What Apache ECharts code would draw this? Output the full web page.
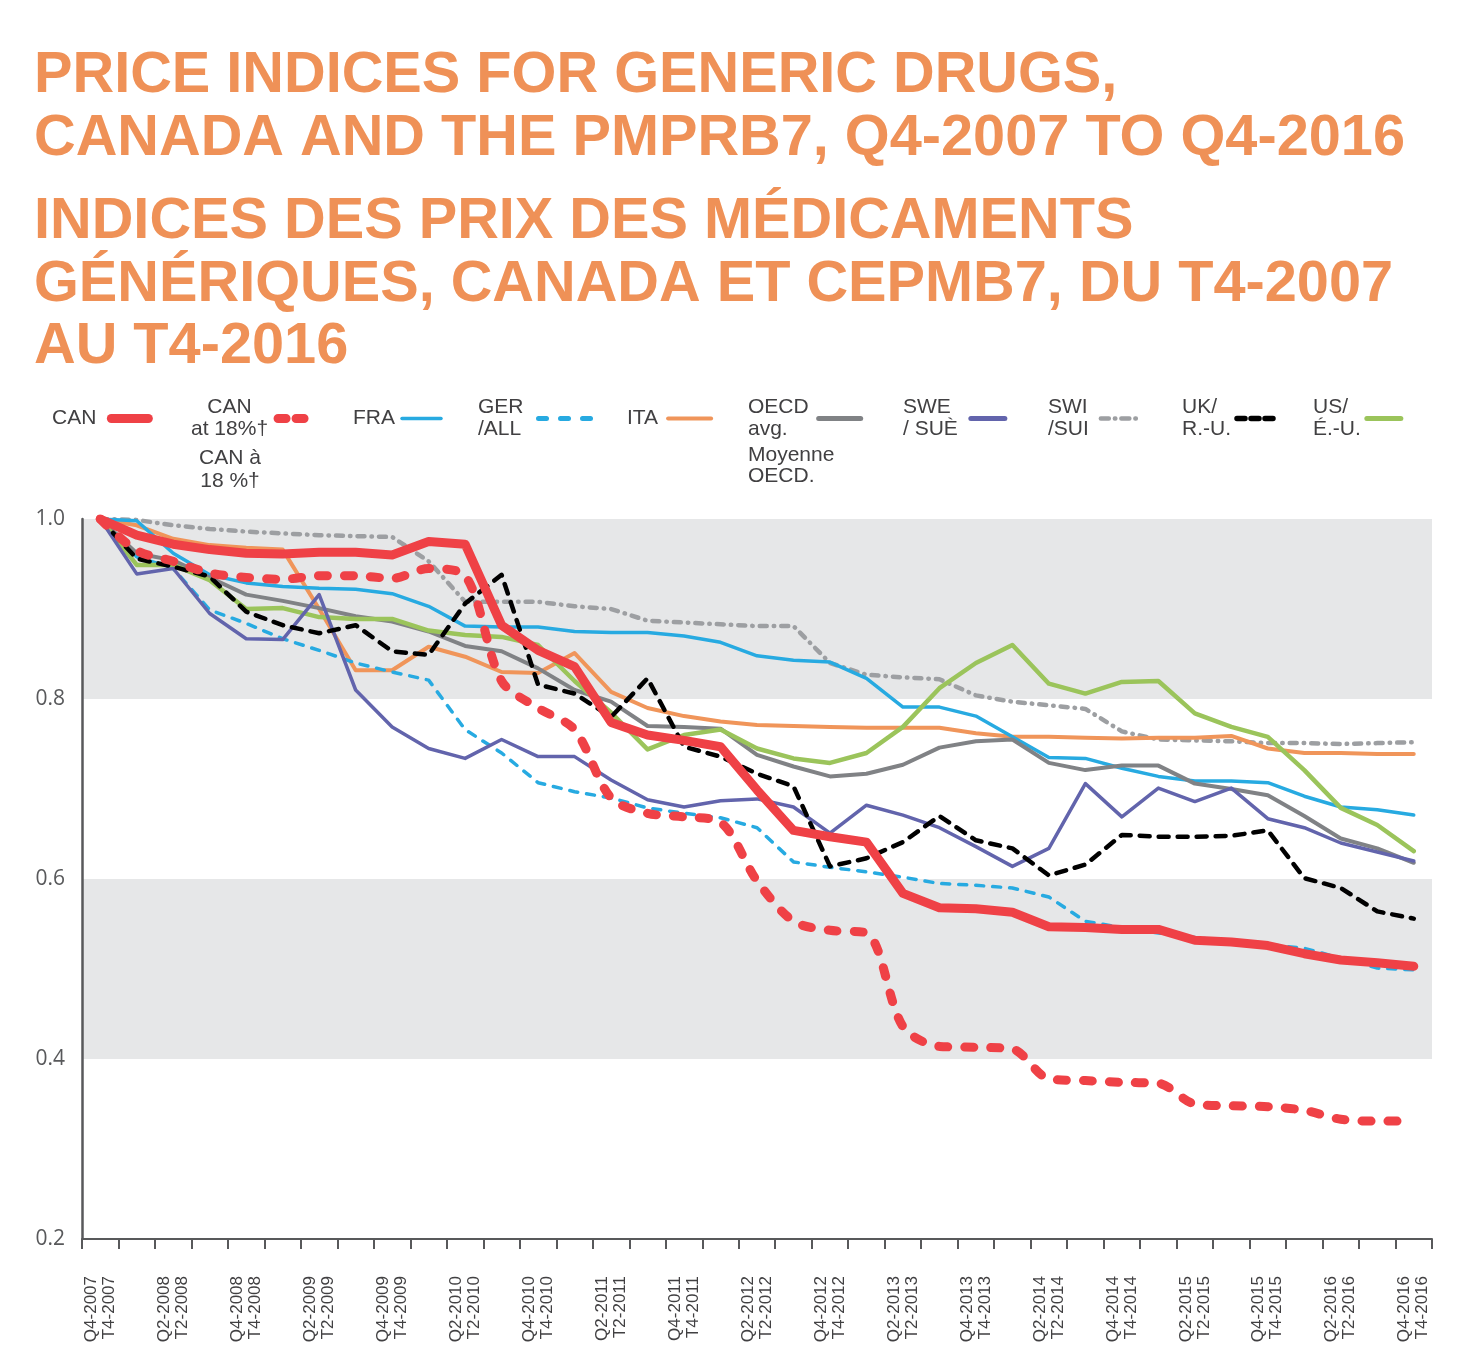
<!DOCTYPE html>
<html><head><meta charset="utf-8">
<script src="https://cdn.jsdelivr.net/npm/echarts@6/dist/echarts.min.js"></script>
<style>html,body{margin:0;padding:0;background:#fff}#c{width:1477px;height:1364px}</style>
</head><body><div id="c"></div>
<script>
const quarters = ['Q4-2007','Q1-2008','Q2-2008','Q3-2008','Q4-2008','Q1-2009','Q2-2009','Q3-2009','Q4-2009',
  'Q1-2010','Q2-2010','Q3-2010','Q4-2010','Q1-2011','Q2-2011','Q3-2011','Q4-2011','Q1-2012','Q2-2012','Q3-2012','Q4-2012',
  'Q1-2013','Q2-2013','Q3-2013','Q4-2013','Q1-2014','Q2-2014','Q3-2014','Q4-2014','Q1-2015','Q2-2015','Q3-2015','Q4-2015',
  'Q1-2016','Q2-2016','Q3-2016','Q4-2016'];
const yTicks = [0.2, 0.4, 0.6, 0.8, 1.0];

const CAN   = [1.000,0.982,0.972,0.966,0.962,0.961,0.963,0.963,0.960,0.975,0.972,0.882,0.854,0.836,0.774,0.760,0.754,0.747,0.699,0.654,0.647,0.641,0.584,0.568,0.567,0.563,0.547,0.546,0.544,0.544,0.532,0.530,0.526,0.517,0.510,0.507,0.503];
const CAN18 = [1.000,0.965,0.953,0.940,0.935,0.933,0.937,0.937,0.934,0.945,0.937,0.820,0.790,0.766,0.690,0.673,0.669,0.663,0.598,0.553,0.543,0.540,0.436,0.414,0.413,0.411,0.378,0.376,0.374,0.373,0.350,0.348,0.347,0.343,0.333,0.331,0.331];
const FRA   = [1.000,0.998,0.962,0.938,0.929,0.925,0.923,0.922,0.917,0.903,0.881,0.880,0.880,0.875,0.874,0.874,0.870,0.863,0.848,0.843,0.841,0.823,0.791,0.791,0.781,0.758,0.735,0.734,0.723,0.714,0.709,0.709,0.707,0.692,0.680,0.677,0.671];
const GER   = [1.000,0.958,0.945,0.899,0.884,0.867,0.854,0.840,0.830,0.821,0.766,0.740,0.707,0.697,0.690,0.679,0.673,0.668,0.657,0.619,0.613,0.608,0.602,0.595,0.593,0.590,0.580,0.553,0.546,0.540,0.535,0.531,0.527,0.523,0.512,0.501,0.499];
const ITA   = [1.000,0.993,0.978,0.971,0.968,0.966,0.900,0.832,0.832,0.858,0.847,0.830,0.829,0.851,0.808,0.790,0.781,0.775,0.771,0.770,0.769,0.768,0.768,0.768,0.762,0.758,0.758,0.757,0.756,0.757,0.757,0.759,0.745,0.740,0.740,0.739,0.739];
const OECD  = [1.000,0.962,0.954,0.935,0.916,0.909,0.901,0.892,0.886,0.875,0.859,0.853,0.834,0.810,0.797,0.770,0.769,0.767,0.738,0.725,0.714,0.717,0.727,0.746,0.753,0.755,0.729,0.721,0.726,0.726,0.706,0.700,0.693,0.670,0.645,0.634,0.618];
const SWE   = [1.000,0.939,0.945,0.895,0.867,0.866,0.916,0.810,0.769,0.745,0.734,0.755,0.736,0.736,0.710,0.688,0.680,0.687,0.689,0.680,0.651,0.682,0.671,0.657,0.636,0.614,0.634,0.706,0.669,0.701,0.686,0.701,0.667,0.657,0.640,0.630,0.620];
const SWI   = [1.000,0.999,0.993,0.989,0.986,0.984,0.982,0.981,0.980,0.953,0.908,0.908,0.908,0.903,0.900,0.887,0.885,0.883,0.881,0.881,0.840,0.827,0.824,0.822,0.804,0.797,0.793,0.789,0.764,0.755,0.754,0.753,0.751,0.751,0.750,0.751,0.752];
const UK    = [1.000,0.956,0.947,0.936,0.897,0.882,0.873,0.882,0.853,0.849,0.906,0.938,0.816,0.806,0.780,0.823,0.747,0.736,0.717,0.703,0.614,0.623,0.641,0.670,0.643,0.634,0.604,0.616,0.649,0.647,0.647,0.648,0.654,0.601,0.590,0.564,0.556];
const US    = [1.000,0.949,0.949,0.932,0.900,0.901,0.891,0.889,0.889,0.876,0.871,0.869,0.860,0.820,0.785,0.744,0.760,0.766,0.745,0.734,0.729,0.740,0.769,0.812,0.840,0.860,0.817,0.806,0.819,0.820,0.784,0.769,0.758,0.721,0.679,0.660,0.631];

const FONT = "'Liberation Sans', Arial, Helvetica, sans-serif";
const TXT = '#414042';

const seriesDefs = [
  {name:'SWI /SUI', data:SWI, color:'#9d9fa2', width:4.5, type:[7,7,0.5,7], cap:'round', lines:['SWI','/SUI'], left:1048, top:397, iw:35, pad:7, ltype:[8,6,0.5,6]},
  {name:'ITA', data:ITA, color:'#f0955a', width:4, type:'solid', cap:'round', lines:['ITA'], left:627, top:408, iw:43, pad:5},
  {name:'FRA', data:FRA, color:'#27aae1', width:3.5, type:'solid', cap:'round', lines:['FRA'], left:353, top:408, iw:39, pad:2},
  {name:'GER/ALL', data:GER, color:'#27aae1', width:3.5, type:[8,9], cap:'round', lines:['GER','/ALL'], left:478, top:397, iw:52, pad:10, ltype:[8,14], lwidth:5},
  {name:'OECD avg.', data:OECD, color:'#808285', width:4, type:'solid', cap:'round', lines:['OECD','avg.'], left:748, top:397, iw:42, pad:5, lwidth:5},
  {name:'US/ É.-U.', data:US, color:'#9bc45b', width:4.5, type:'solid', cap:'round', lines:['US/','É.-U.'], left:1313, top:397, iw:34, pad:1, lwidth:5},
  {name:'SWE / SUÈ', data:SWE, color:'#6264ac', width:3.5, type:'solid', cap:'round', lines:['SWE','/ SUÈ'], left:903, top:397, iw:34, pad:8, lwidth:5},
  {name:'UK/ R.-U.', data:UK, color:'#000000', width:4.5, type:[10,9], cap:'round', lines:['UK/','R.-U.'], left:1182, top:397, iw:37, pad:1, ltype:[8,6], lwidth:5.5},
  {name:'CAN at 18%†', data:CAN18, color:'#ef4146', width:9, type:[9,17], cap:'round', smooth:0.3, lines:['CAN','at 18%†'], left:191, top:397, iw:28, pad:5, ltype:[8,10], center:true},
  {name:'CAN', data:CAN, color:'#ef4146', width:9, type:'solid', cap:'round', lines:['CAN'], left:52, top:408, iw:37, pad:10}
];

const series = seriesDefs.map(d => ({
  name: d.name, type: 'line', data: d.data, symbol: 'none', smooth: d.smooth || false,
  lineStyle: {color: d.color, width: d.width, type: d.type, cap: d.cap, join: 'round'},
  itemStyle: {color: d.color},
  emphasis: {disabled: true}, silent: true, animation: false
}));

const legends = seriesDefs.map(d => ({
  data: [d.name], left: d.left, top: d.top, padding: 0, selectedMode: false,
  align: 'right', itemWidth: d.iw, itemHeight: 12,
  itemStyle: {opacity: 0},
  lineStyle: {color: d.color, width: d.lwidth || d.width, type: d.ltype || d.type, cap: d.cap},
  formatter: () => d.lines.map(l => '{t|' + l + '}').join('\n'),
  textStyle: {rich: {t: {fontFamily: FONT, fontSize: 21, lineHeight: 22, color: TXT,
    align: d.center ? 'center' : 'left', padding: [0, d.pad, 0, 0]}}}
}));

const option = {
  backgroundColor: '#ffffff',
  animation: false,
  title: [
    {text: 'PRICE INDICES FOR GENERIC DRUGS,\nCANADA AND THE PMPRB7, Q4-2007 TO Q4-2016', left: 34, top: 45, padding: 0,
     textStyle: {fontFamily: FONT, fontWeight: 'bold', fontSize: 57.7, lineHeight: 63, color: '#ef9157'}},
    {text: 'INDICES DES PRIX DES MÉDICAMENTS\nGÉNÉRIQUES, CANADA ET CEPMB7, DU T4-2007\nAU T4-2016', left: 34, top: 191, padding: 0,
     textStyle: {fontFamily: FONT, fontWeight: 'bold', fontSize: 57.7, lineHeight: 62.5, color: '#ef9157'}}
  ],
  legend: legends,
  graphic: [
    {type: 'text', style: {x: 230, y: 447, text: 'CAN à\n18 %†', textAlign: 'center', font: '21px ' + FONT, lineHeight: 23, fill: TXT}},
    {type: 'text', style: {x: 748, y: 445, text: 'Moyenne\nOECD.', textAlign: 'left', font: '21px ' + FONT, lineHeight: 21, fill: TXT}}
  ],
  grid: {left: 82, right: 45, top: 519, bottom: 125, containLabel: false},
  xAxis: {
    type: 'category', data: quarters, boundaryGap: true,
    axisLine: {show: true, lineStyle: {color: '#58595b', width: 2}},
    axisTick: {show: true, interval: 0, length: 10, lineStyle: {color: '#58595b', width: 2}},
    axisLabel: {interval: 1, rotate: 90, margin: 37, fontFamily: FONT, fontSize: 17, lineHeight: 18, color: TXT,
      formatter: v => v + '\n' + v.replace('Q', 'T')},
    splitLine: {show: false}
  },
  yAxis: {
    type: 'value', min: yTicks[0], max: yTicks[yTicks.length - 1], interval: 0.2,
    axisLine: {show: true, lineStyle: {color: '#58595b', width: 2.5}},
    axisTick: {show: false},
    axisLabel: {margin: 17, fontFamily: "'Open Sans', sans-serif", fontSize: 21, color: '#58595b', formatter: v => v.toFixed(1)},
    splitLine: {show: false},
    splitArea: {show: true, areaStyle: {color: ['#ffffff', '#e6e7e8']}}
  },
  series: series
};
const chart = echarts.init(document.getElementById('c'), null, {renderer: 'canvas'});
chart.setOption(option);
</script></body></html>
